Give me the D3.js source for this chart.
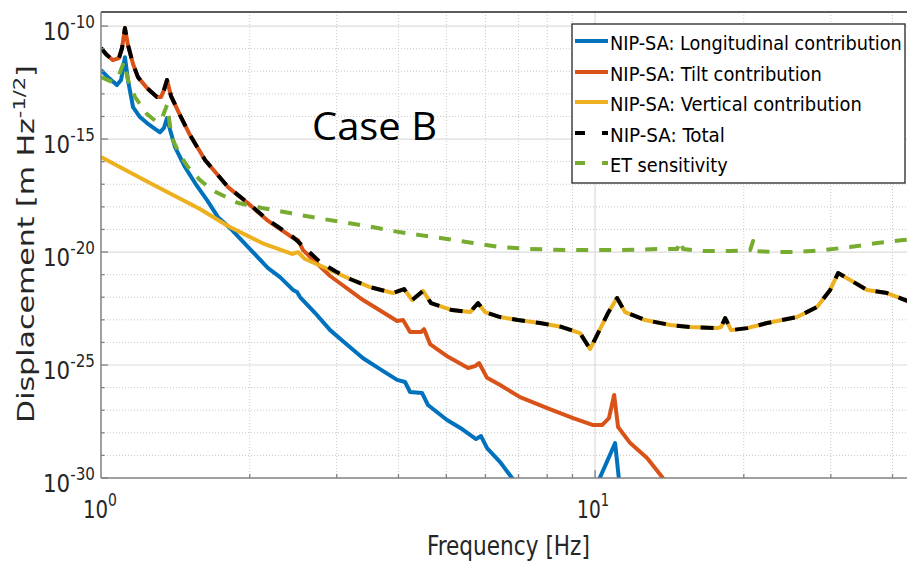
<!DOCTYPE html>
<html>
<head>
<meta charset="utf-8">
<script src="https://cdn.jsdelivr.net/npm/d3@7"></script>
<style>
  html, body { margin: 0; padding: 0; background: #fff; }
  svg { display: block; }
</style>
</head>
<body>
<svg id="chart" width="907" height="563"></svg>
<script>
// Amplitude spectral densities [m Hz^-1/2] versus frequency [Hz]

const freqLong = [1.000,1.033,1.077,1.098,1.118,1.134,1.161,1.199,1.239,1.286,1.316,1.341,1.360,1.380,1.412,1.479,1.550,1.639,1.725,1.842,1.985,2.178,2.303,2.447,2.493,2.528,2.713,2.909,3.119,3.392,3.671,3.975,4.125,4.222,4.464,4.590,5.016,5.380,5.742,5.877,6.045,6.424,6.792,7.217,9.77,10.98,11.18,11.34];
const asdLong = [1.13e-12,5.5e-13,2.45e-13,4.1e-13,4.2e-12,4.1e-13,2.6e-14,9.4e-15,5.1e-15,2.8e-15,2.0e-15,3.1e-15,8.5e-15,2.5e-15,4.4e-16,5.8e-17,1.13e-17,2.0e-18,3.5e-19,9.4e-20,1.66e-20,1.96e-21,7.8e-22,2.1e-22,1.7e-22,1.02e-22,2.0e-23,3.5e-24,9.4e-25,2.0e-25,6.6e-26,2.2e-26,1.77e-26,6.4e-27,5.8e-27,1.7e-27,3.7e-28,1.47e-28,5.3e-29,7.2e-29,2.1e-29,5.1e-30,1.0e-30,2.4e-31,1.06e-31,3.5e-29,8.2e-31,1.06e-31];

const freqTilt = [1.000,1.028,1.057,1.087,1.103,1.118,1.134,1.161,1.188,1.239,1.298,1.323,1.341,1.360,1.386,1.445,1.514,1.624,1.807,2.003,2.168,2.447,2.505,2.564,2.909,3.392,3.975,4.087,4.222,4.444,4.506,4.634,5.04,5.534,5.716,5.824,6.045,6.424,7.05,8.0,9.03,9.91,10.33,10.67,10.93,11.13,11.78,12.74,13.67,14.19];
const asdTilt = [1.06e-11,5.2e-12,3.1e-12,3.8e-12,1.06e-11,8.2e-11,1.44e-11,2.1e-12,5.5e-13,1.8e-13,7.2e-14,7.2e-14,1.47e-13,4.1e-13,8.0e-14,1.15e-14,1.5e-15,1.18e-16,7.5e-18,1.2e-18,2.6e-19,4.2e-20,3.4e-20,1.22e-20,8.7e-22,7.5e-23,8.9e-24,9.8e-24,2.9e-24,2.9e-24,3.9e-24,8.5e-25,2.3e-25,7.4e-26,9.0e-26,1.22e-25,2.7e-26,1.3e-26,3.8e-27,1.25e-27,4.5e-28,2.2e-28,2.2e-28,4.5e-28,4.7e-27,1.8e-28,3.5e-29,7.7e-30,1.1e-30,3e-31];

const freqVert = [1.000,1.256,1.586,1.807,2.118,2.436,2.505,2.588,2.909,3.192,3.504,3.900,4.106,4.264,4.485,4.656,5.133,5.585,5.797,5.988,6.424,6.984,7.74,8.575,9.325,9.77,10.14,10.62,11.08,11.5,12.63,14.19,15.57,17.66,17.99,18.34,18.85,20.31,22.29,25.64,28.14,29.91,31.04,32.82,35.53,39.0,41.45,44.5];
const asdVert = [1.6e-16,1.13e-17,8.0e-19,1.41e-19,2.5e-20,8.2e-21,1.0e-20,4.9e-21,1.6e-21,6.4e-22,2.8e-22,1.53e-22,2.3e-22,7.5e-23,1.9e-22,5.5e-23,2.7e-23,2.2e-23,5.5e-23,2.2e-23,1.33e-23,9.8e-24,7.2e-24,4.8e-24,2.6e-24,5.1e-25,2.6e-24,2.0e-23,9.2e-23,2.2e-23,9.8e-24,5.9e-24,4.8e-24,4.3e-24,4.8e-24,1.2e-23,3.5e-24,4.3e-24,7.2e-24,1.33e-23,3.7e-23,2.1e-22,1.18e-21,5.8e-22,2.1e-22,1.53e-22,9.2e-23,5.0e-23];

const freqTotal = [1.000,1.028,1.057,1.087,1.103,1.118,1.134,1.161,1.188,1.239,1.298,1.323,1.341,1.360,1.386,1.445,1.514,1.624,1.807,2.003,2.168,2.447,2.588,2.776,2.976,3.192,3.504,3.900,4.106,4.264,4.485,4.656,5.133,5.585,5.797,5.988,6.424,6.984,7.74,8.575,9.325,9.77,10.14,10.62,11.08,11.5,12.63,14.19,15.57,17.66,17.99,18.34,18.85,20.31,22.29,25.64,28.14,29.91,31.04,32.82,35.53,39.0,41.45,44.5];
const asdTotal = [1.06e-11,5.2e-12,3.1e-12,3.8e-12,1.06e-11,8.2e-11,1.44e-11,2.1e-12,5.5e-13,1.8e-13,7.2e-14,7.2e-14,1.47e-13,4.1e-13,8.0e-14,1.15e-14,1.5e-15,1.18e-16,7.6e-18,1.25e-18,2.8e-19,4.6e-20,1.5e-20,3.6e-21,1.44e-21,6.4e-22,2.8e-22,1.53e-22,2.3e-22,7.5e-23,1.9e-22,5.5e-23,2.7e-23,2.2e-23,5.5e-23,2.2e-23,1.33e-23,9.8e-24,7.2e-24,4.8e-24,2.6e-24,5.1e-25,2.6e-24,2.0e-23,9.2e-23,2.2e-23,9.8e-24,5.9e-24,4.8e-24,4.3e-24,4.8e-24,1.2e-23,3.5e-24,4.3e-24,7.2e-24,1.33e-23,3.7e-23,2.1e-22,1.18e-21,5.8e-22,2.1e-22,1.53e-22,9.2e-23,5.0e-23];

const freqET = [1.000,1.057,1.087,1.113,1.134,1.172,1.239,1.298,1.329,1.360,1.392,1.445,1.500,1.586,1.678,1.894,2.118,2.413,2.737,3.090,3.455,3.900,4.424,5.016,5.662,6.424,7.385,8.9,11.23,13.54,14.66,14.86,15.07,16.55,18.76,20.6,20.89,21.18,22.93,25.64,28.93,32.82,37.23,42.04,45.5];
const asdET = [5.5e-13,3.3e-13,6.8e-13,2.55e-12,4.1e-13,7.2e-14,1.28e-14,5.6e-15,8.5e-15,3.2e-14,1.1e-15,1.96e-16,5.8e-17,1.53e-17,5.5e-18,1.47e-18,8.9e-19,5.3e-19,3.2e-19,2.1e-19,1.41e-19,8.5e-20,5.6e-20,3.8e-20,2.5e-20,1.66e-20,1.36e-20,1.22e-20,1.22e-20,1.36e-20,1.36e-20,3.1e-20,1.36e-20,1.1e-20,1.1e-20,1.22e-20,3.1e-20,1.1e-20,1.0e-20,1.0e-20,1.22e-20,1.66e-20,2.5e-20,3.4e-20,4.1e-20];

const seriesNames = ["NIP-SA: Longitudinal contribution", "NIP-SA: Tilt contribution", "NIP-SA: Vertical contribution", "NIP-SA: Total", "ET sensitivity"];
const yTickExponents = [-10, -15, -20, -25, -30];
const xTickExponents = [0, 1];

// ---- layout ----
const svg = d3.select("#chart");
const plot = { left: 101, right: 912, top: 12, bottom: 478 };
const FONT = "'DejaVu Sans Condensed', 'DejaVu Sans', sans-serif";
const TXT = "#262626";

const x = d3.scaleLog().domain([1, 43.8]).range([plot.left, plot.right]);
const y = d3.scaleLog().domain([1e-30, 4.2e-10]).range([plot.bottom, plot.top]);

// text placed at a left edge and stretched to a given length
function fitText(parent, x0, y0, target, build, rotate) {
  const g = parent.append("g");
  const t = g.append("text").attr("x", 0).attr("y", 0)
    .attr("font-family", FONT).attr("fill", TXT);
  build(t);
  const w = t.node().getBBox().width;
  const k = target / w;
  g.attr("transform", `translate(${x0},${y0})${rotate ? " rotate(-90)" : ""} scale(${k},1)`);
  return g;
}

// ---- grid ----
const grid = svg.append("g");
const minorX = [2,3,4,5,6,7,8,9,20,30,40];
grid.selectAll(".gx").data(minorX).join("line")
  .attr("x1", d => x(d)).attr("x2", d => x(d))
  .attr("y1", plot.top).attr("y2", plot.bottom)
  .attr("stroke", "#c8c8c8").attr("stroke-width", 1).attr("stroke-dasharray", "1,2");
const minorY = d3.range(-29, -9).filter(e => e % 5 !== 0);
grid.selectAll(".gy").data(minorY).join("line")
  .attr("x1", plot.left).attr("x2", plot.right)
  .attr("y1", d => y(Math.pow(10, d))).attr("y2", d => y(Math.pow(10, d)))
  .attr("stroke", "#c8c8c8").attr("stroke-width", 1).attr("stroke-dasharray", "1,2");
grid.selectAll(".gyM").data(yTickExponents.filter(e => e > -30)).join("line")
  .attr("x1", plot.left).attr("x2", plot.right)
  .attr("y1", d => y(Math.pow(10, d))).attr("y2", d => y(Math.pow(10, d)))
  .attr("stroke", "#dcdcdc").attr("stroke-width", 1.2);
grid.append("line")
  .attr("x1", x(10)).attr("x2", x(10)).attr("y1", plot.top).attr("y2", plot.bottom)
  .attr("stroke", "#dcdcdc").attr("stroke-width", 1.2);

// ---- curves ----
svg.append("clipPath").attr("id", "clip").append("rect")
  .attr("x", plot.left).attr("y", plot.top)
  .attr("width", plot.right - plot.left).attr("height", plot.bottom - plot.top);

const curves = svg.append("g").attr("clip-path", "url(#clip)");
const line = d3.line().x(d => x(d[0])).y(d => y(d[1]));
const zip = (f, v) => f.map((d, i) => [d, v[i]]);

const series = [
  { data: zip(freqLong, asdLong),   color: "#0072BD", dash: null },
  { data: zip(freqTilt, asdTilt),   color: "#D95319", dash: null },
  { data: zip(freqVert, asdVert),   color: "#EDB120", dash: null },
  { data: zip(freqTotal, asdTotal), color: "#000000", dash: "13,11" },
  { data: zip(freqET, asdET),       color: "#77AC30", dash: "12,11" }
];

series.forEach(s => {
  curves.append("path").datum(s.data)
    .attr("d", line)
    .attr("fill", "none")
    .attr("stroke", s.color)
    .attr("stroke-width", 4)
    .attr("stroke-linejoin", "round")
    .attr("stroke-dasharray", s.dash);
});

// ---- axes frame and ticks ----
const axes = svg.append("g");
axes.append("line").attr("x1", plot.left).attr("x2", 907).attr("y1", plot.top).attr("y2", plot.top)
  .attr("stroke", "#262626").attr("stroke-width", 1.5);
axes.append("line").attr("x1", plot.left).attr("x2", plot.left).attr("y1", plot.top).attr("y2", plot.bottom)
  .attr("stroke", "#808080").attr("stroke-width", 1.5);
axes.append("line").attr("x1", plot.left).attr("x2", 907).attr("y1", plot.bottom).attr("y2", plot.bottom)
  .attr("stroke", "#808080").attr("stroke-width", 1.5);

// y ticks (major every 5 decades, minor each decade)
axes.selectAll(".ty").data(d3.range(-30, -9)).join("line")
  .attr("x1", plot.left).attr("x2", d => plot.left + (d % 5 === 0 ? 7 : 3.5))
  .attr("y1", d => y(Math.pow(10, d))).attr("y2", d => y(Math.pow(10, d)))
  .attr("stroke", "#808080").attr("stroke-width", 1.3);
// x ticks
axes.selectAll(".tx").data(minorX).join("line")
  .attr("x1", d => x(d)).attr("x2", d => x(d))
  .attr("y1", plot.bottom).attr("y2", plot.bottom - 4)
  .attr("stroke", "#808080").attr("stroke-width", 1.3);
axes.append("line").attr("x1", x(10)).attr("x2", x(10))
  .attr("y1", plot.bottom).attr("y2", plot.bottom - 8)
  .attr("stroke", "#808080").attr("stroke-width", 1.3);

// y tick labels
yTickExponents.forEach(e => {
  const ty = y(Math.pow(10, e));
  fitText(svg, 43, ty + 14, 52, t => {
    t.attr("font-size", 24).text("10");
    t.append("tspan").attr("font-size", 17).attr("dy", -12).text(String(e));
  });
});
// x tick labels
xTickExponents.forEach(e => {
  const tx = x(Math.pow(10, e));
  fitText(svg, tx - 18, 518, e === 0 ? 34 : 32, t => {
    t.attr("font-size", 24).text("10");
    t.append("tspan").attr("font-size", 17).attr("dy", -12).text(String(e));
  });
});

// axis titles
fitText(svg, 427, 555, 163, t => t.attr("font-size", 26).text("Frequency [Hz]"));
fitText(svg, 34, 423, 358, t => {
  t.attr("font-size", 23).text("Displacement [m Hz");
  t.append("tspan").attr("font-size", 16).attr("dy", -9).text("-1/2");
  t.append("tspan").attr("font-size", 23).attr("dy", 9).text("]");
}, true);

// annotation
fitText(svg, 312, 140, 125, t => t.attr("font-family", "'Open Sans', Lato, sans-serif")
  .attr("font-size", 38).attr("fill", "#000").text("Case B"));

// ---- legend ----
const legend = svg.append("g");
legend.append("rect").attr("x", 572).attr("y", 24).attr("width", 333).attr("height", 159)
  .attr("fill", "#fff").attr("stroke", "#262626").attr("stroke-width", 1.3);
const legendBase = [50, 81, 111, 142, 172];
const legendWidth = [292, 212, 252, 115, 118];
series.forEach((s, i) => {
  legend.append("line")
    .attr("x1", 575).attr("x2", 608)
    .attr("y1", legendBase[i] - 9).attr("y2", legendBase[i] - 9)
    .attr("stroke", s.color).attr("stroke-width", 4)
    .attr("stroke-dasharray", s.dash ? "10,17" : null);
  fitText(legend, 610, legendBase[i], legendWidth[i],
    t => t.attr("font-size", 20).attr("fill", "#000").text(seriesNames[i]));
});
</script>
</body>
</html>
